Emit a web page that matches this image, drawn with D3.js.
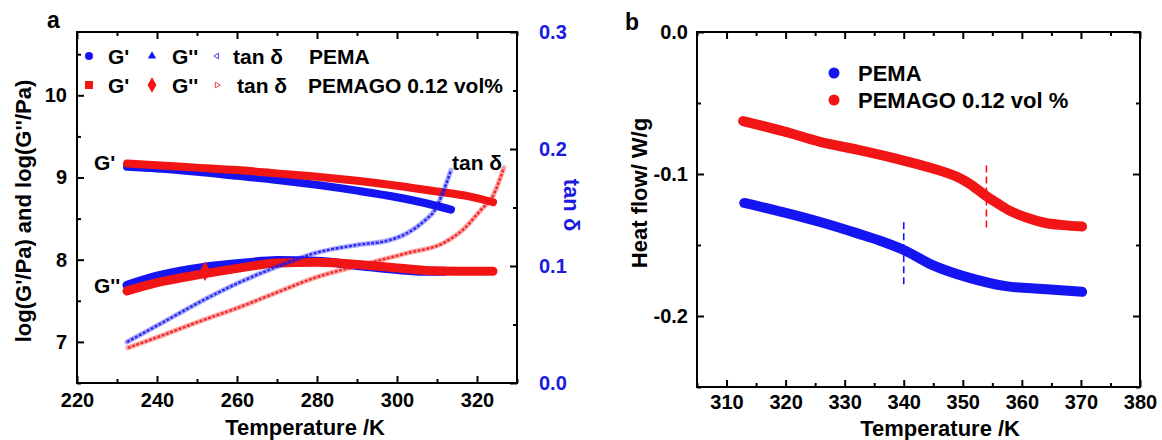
<!DOCTYPE html>
<html><head><meta charset="utf-8">
<script src="https://cdn.jsdelivr.net/npm/d3@7"></script>
<style>
body{margin:0;background:#fff}
text{font-family:"Liberation Sans",Arial,sans-serif;font-weight:bold}
</style>
</head><body>
<svg id="chart" width="1162" height="440"></svg>
<script>
// ---------- Panel a data (DMA) ----------
const tempGpPEMA   = [232.5,240,250,260,270,280,290,300,307,313.5];
const gpPEMA       = [9.13,9.11,9.07,9.02,8.97,8.91,8.84,8.76,8.69,8.61];
const tempGpPEMAGO = [232.5,240,250,260,270,280,290,300,310,318,324];
const gpPEMAGO     = [9.17,9.15,9.12,9.09,9.05,9.01,8.96,8.90,8.83,8.77,8.70];
const tempGppPEMA   = [232.5,240,252,262,270,280,290,300,307,312];
const gppPEMA       = [7.69,7.80,7.91,7.96,7.99,7.98,7.93,7.88,7.86,7.86];
const tempGppPEMAGO = [232.5,240,252,262,270,280,293,300,307,315,324];
const gppPEMAGO     = [7.62,7.72,7.83,7.91,7.96,7.97,7.93,7.90,7.87,7.86,7.86];
const tempTanPEMA   = [232.5,240,251.7,260,269.7,279.5,290,298,302.5,307,309.5,311.5,313.5];
const tanPEMA       = [0.035,0.049,0.071,0.085,0.099,0.111,0.118,0.122,0.128,0.139,0.148,0.163,0.182];
const tempTanPEMAGO = [232.7,240,251.7,260,269.7,279.5,293,302.5,311.8,316.5,321,324,326.7];
const tanPEMAGO     = [0.030,0.039,0.054,0.064,0.077,0.090,0.1025,0.111,0.120,0.131,0.148,0.160,0.184];
const gppMarkerTemp = [252];
const gppMarkerVal  = [7.86];

const xTicksA      = [220,240,260,280,300,320];
const xMinorA      = [230,250,270,290,310,330];
const yTicksA      = [7,8,9,10];
const yMinorA      = [6.5,7.5,8.5,9.5,10.5];
const yRightTicksA = [0.0,0.1,0.2,0.3];
const yRightMinorA = [0.05,0.15,0.25];

// ---------- Panel b data (DSC) ----------
const tempDscPEMA   = [313,319.7,326,332.3,336,340,344.8,351,357.3,363.6,370.2];
const dscPEMA       = [-0.1204,-0.127,-0.134,-0.142,-0.147,-0.1535,-0.164,-0.173,-0.179,-0.181,-0.183];
const tempDscPEMAGO = [312.8,319.7,326,332.3,338.5,344.8,349,351,353.8,356,358,361,364,367,370.2];
const dscPEMAGO     = [-0.0627,-0.070,-0.0775,-0.083,-0.089,-0.096,-0.102,-0.1065,-0.115,-0.121,-0.126,-0.131,-0.1345,-0.136,-0.137];
const tgTemps       = [340,354];
const tgTop         = [-0.134,-0.094];
const tgBottom      = [-0.180,-0.140];

const xTicksB = [310,320,330,340,350,360,370,380];
const xMinorB = [305,315,325,335,345,355,365,375];
const yTicksB = [0.0,-0.1,-0.2];
const yMinorB = [-0.05,-0.15,-0.25];

const BLUE = "#1515f2", RED = "#f21515", AXISBLUE = "#1a1ae0";

const svg = d3.select("#chart");
const zip = (a,b) => a.map((v,i)=>[v,b[i]]);
const fmt1 = v => d3.format(".1f")(v).replace("\u2212","-");

// ---------- Panel a ----------
const xa = d3.scaleLinear().domain([220,330]).range([77,517]);
const ya = d3.scaleLinear().domain([6.5,10.77]).range([383,32]);
const yr = d3.scaleLinear().domain([0,0.3]).range([383,32]);

function drawAxes(x, y, xMaj, xMin, yMaj, yMin, yFmt, xLabPad, yLabPad){
  const [x0,x1] = x.range(), [y0,y1] = y.range();
  const g = svg.append("g");
  g.append("g").attr("transform",`translate(0,${y0})`)
    .call(d3.axisBottom(x).tickValues(xMin).tickSize(-4).tickFormat(""));
  g.append("g").attr("transform",`translate(0,${y1})`)
    .call(d3.axisTop(x).tickValues(xMin).tickSize(-4).tickFormat(""));
  g.append("g").attr("transform",`translate(${x0},0)`)
    .call(d3.axisLeft(y).tickValues(yMin).tickSize(-4).tickFormat(""));
  g.append("g").attr("transform",`translate(0,${y0})`)
    .call(d3.axisBottom(x).tickValues(xMaj).tickSize(-7).tickPadding(xLabPad).tickFormat(d3.format("d")));
  g.append("g").attr("transform",`translate(0,${y1})`)
    .call(d3.axisTop(x).tickValues(xMaj).tickSize(-7).tickFormat(""));
  g.append("g").attr("transform",`translate(${x0},0)`)
    .call(d3.axisLeft(y).tickValues(yMaj).tickSize(-7).tickPadding(yLabPad).tickFormat(yFmt));
  g.selectAll(".domain").remove();
  g.selectAll("line").attr("stroke","#000").attr("stroke-width",2);
  g.selectAll("text").attr("font-size",20).attr("fill","#000")
    .style("font-family",'"Liberation Sans",Arial,sans-serif').style("font-weight","bold");
  return g;
}

drawAxes(xa, ya, xTicksA, xMinorA, yTicksA, yMinorA, d3.format("d"), 10, 10);
{
  const g = svg.append("g");
  g.append("g").attr("transform","translate(517,0)")
    .call(d3.axisRight(yr).tickValues(yRightMinorA).tickSize(-4).tickFormat(""));
  g.append("g").attr("transform","translate(517,0)")
    .call(d3.axisRight(yr).tickValues(yRightTicksA).tickSize(-7).tickPadding(22).tickFormat(fmt1));
  g.selectAll(".domain").remove();
  g.selectAll("line").attr("stroke","#000").attr("stroke-width",2);
  g.selectAll("text").attr("font-size",20).attr("fill",AXISBLUE)
    .style("font-family",'"Liberation Sans",Arial,sans-serif').style("font-weight","bold");
}

const lineA = d3.line().x(d=>xa(d[0])).y(d=>ya(d[1])).curve(d3.curveMonotoneX);
const lineR = d3.line().x(d=>xa(d[0])).y(d=>yr(d[1])).curve(d3.curveMonotoneX);

function thick(path, col, w){
  svg.append("path").attr("d",path).attr("fill","none").attr("stroke",col)
    .attr("stroke-width",w).attr("stroke-linecap","round").attr("stroke-linejoin","round");
}
thick(lineA(zip(tempGpPEMA,gpPEMA)), BLUE, 8);
thick(lineA(zip(tempGpPEMAGO,gpPEMAGO)), RED, 8);
thick(lineA(zip(tempGppPEMA,gppPEMA)), BLUE, 9);
thick(lineA(zip(tempGppPEMAGO,gppPEMAGO)), RED, 9);
svg.selectAll(".gm").data(zip(gppMarkerTemp,gppMarkerVal)).enter().append("path")
  .attr("transform",d=>`translate(${xa(d[0])},${ya(d[1])})`)
  .attr("d",d3.symbol(d3.symbolDiamond,110)).attr("fill",RED);

function tanLine(path, col){
  svg.append("path").attr("d",path).attr("fill","none").attr("stroke",col)
    .attr("stroke-width",5).attr("stroke-opacity",0.35).attr("stroke-linecap","round");
  svg.append("path").attr("d",path).attr("fill","none").attr("stroke",col)
    .attr("stroke-width",2.5).attr("stroke-dasharray","3,1.5").attr("stroke-opacity",0.85);
}
tanLine(lineR(zip(tempTanPEMA,tanPEMA)), BLUE);
tanLine(lineR(zip(tempTanPEMAGO,tanPEMAGO)), RED);

svg.append("rect").attr("x",77).attr("y",32).attr("width",440).attr("height",351)
  .attr("fill","none").attr("stroke","#000").attr("stroke-width",2);

const legA = svg.append("g").attr("font-size",21);
legA.append("circle").attr("cx",89).attr("cy",56).attr("r",4).attr("fill",BLUE);
legA.append("path").attr("transform","translate(152,56)").attr("d",d3.symbol(d3.symbolTriangle,30)).attr("fill",BLUE);
legA.append("path").attr("transform","translate(217,56) rotate(-90)").attr("d",d3.symbol(d3.symbolTriangle,14)).attr("fill","none").attr("stroke",BLUE).attr("stroke-width",0.8);
legA.append("rect").attr("x",85).attr("y",81).attr("width",8).attr("height",8).attr("fill",RED);
legA.append("path").attr("transform","translate(152,85)").attr("d",d3.symbol(d3.symbolDiamond,70)).attr("fill",RED);
legA.append("path").attr("transform","translate(217,85) rotate(90)").attr("d",d3.symbol(d3.symbolTriangle,14)).attr("fill","none").attr("stroke",RED).attr("stroke-width",0.8);
const legTxt = [
  ["G'",108,56],["G''",172,56],["tan δ",233,56],["PEMA",309,56],
  ["G'",108,85],["G''",172,85],["tan δ",237,85],["PEMAGO 0.12 vol%",308,85]
];
legA.selectAll("text").data(legTxt).enter().append("text")
  .attr("x",d=>d[1]).attr("y",d=>d[2]).attr("dy","0.36em").attr("fill","#000").text(d=>d[0]);

const annA = [["G'",94,170],["G''",94,293],["tan δ",452,170]];
svg.selectAll(".ann").data(annA).enter().append("text").attr("font-size",21)
  .attr("x",d=>d[1]).attr("y",d=>d[2]).attr("fill","#000").text(d=>d[0]);

svg.append("text").attr("x",47).attr("y",28).attr("font-size",23).text("a");
svg.append("text").attr("x",385).attr("y",435).attr("text-anchor","end").attr("font-size",22).text("Temperature /K");
svg.append("text").attr("transform","translate(23,211) rotate(-90)").attr("text-anchor","middle")
  .attr("dy","0.36em").attr("font-size",22).text("log(G'/Pa) and log(G''/Pa)");
svg.append("text").attr("transform","translate(572,205) rotate(90)").attr("text-anchor","middle")
  .attr("dy","0.36em").attr("font-size",22).attr("fill",AXISBLUE).text("tan δ");

// ---------- Panel b ----------
const xb = d3.scaleLinear().domain([305,380]).range([697,1140]);
const yb = d3.scaleLinear().domain([-0.25,0]).range([387,32]);

drawAxes(xb, yb, xTicksB, xMinorB, yTicksB, yMinorB, fmt1, 8, 9);
{
  const g = svg.append("g");
  g.append("g").attr("transform","translate(1140,0)")
    .call(d3.axisRight(yb).tickValues(yMinorB).tickSize(-4).tickFormat(""));
  g.append("g").attr("transform","translate(1140,0)")
    .call(d3.axisRight(yb).tickValues(yTicksB).tickSize(-7).tickFormat(""));
  g.selectAll(".domain").remove();
  g.selectAll("line").attr("stroke","#000").attr("stroke-width",2);
}

const lineB = d3.line().x(d=>xb(d[0])).y(d=>yb(d[1])).curve(d3.curveMonotoneX);
thick(lineB(zip(tempDscPEMA,dscPEMA)), BLUE, 10);
thick(lineB(zip(tempDscPEMAGO,dscPEMAGO)), RED, 10);

svg.selectAll(".tg").data(tgTemps).enter().append("line")
  .attr("x1",d=>xb(d)).attr("x2",d=>xb(d))
  .attr("y1",(d,i)=>yb(tgTop[i])).attr("y2",(d,i)=>yb(tgBottom[i]))
  .attr("stroke",(d,i)=>i===0?BLUE:RED).attr("stroke-width",1.6).attr("stroke-dasharray","7,4");

svg.append("rect").attr("x",697).attr("y",32).attr("width",443).attr("height",355)
  .attr("fill","none").attr("stroke","#000").attr("stroke-width",2);

const legB = svg.append("g").attr("font-size",22);
legB.append("circle").attr("cx",834).attr("cy",73).attr("r",5.5).attr("fill",BLUE);
legB.append("circle").attr("cx",834).attr("cy",100).attr("r",5.5).attr("fill",RED);
legB.append("text").attr("x",858).attr("y",73).attr("dy","0.36em").text("PEMA");
legB.append("text").attr("x",858).attr("y",100).attr("dy","0.36em").text("PEMAGO 0.12 vol %");

svg.append("text").attr("x",625).attr("y",30).attr("font-size",23).text("b");
svg.append("text").attr("x",1020).attr("y",436).attr("text-anchor","end").attr("font-size",22).text("Temperature /K");
svg.append("text").attr("transform","translate(639,193) rotate(-90)").attr("text-anchor","middle")
  .attr("dy","0.36em").attr("font-size",22).text("Heat flow/ W/g");
</script>
</body></html>
